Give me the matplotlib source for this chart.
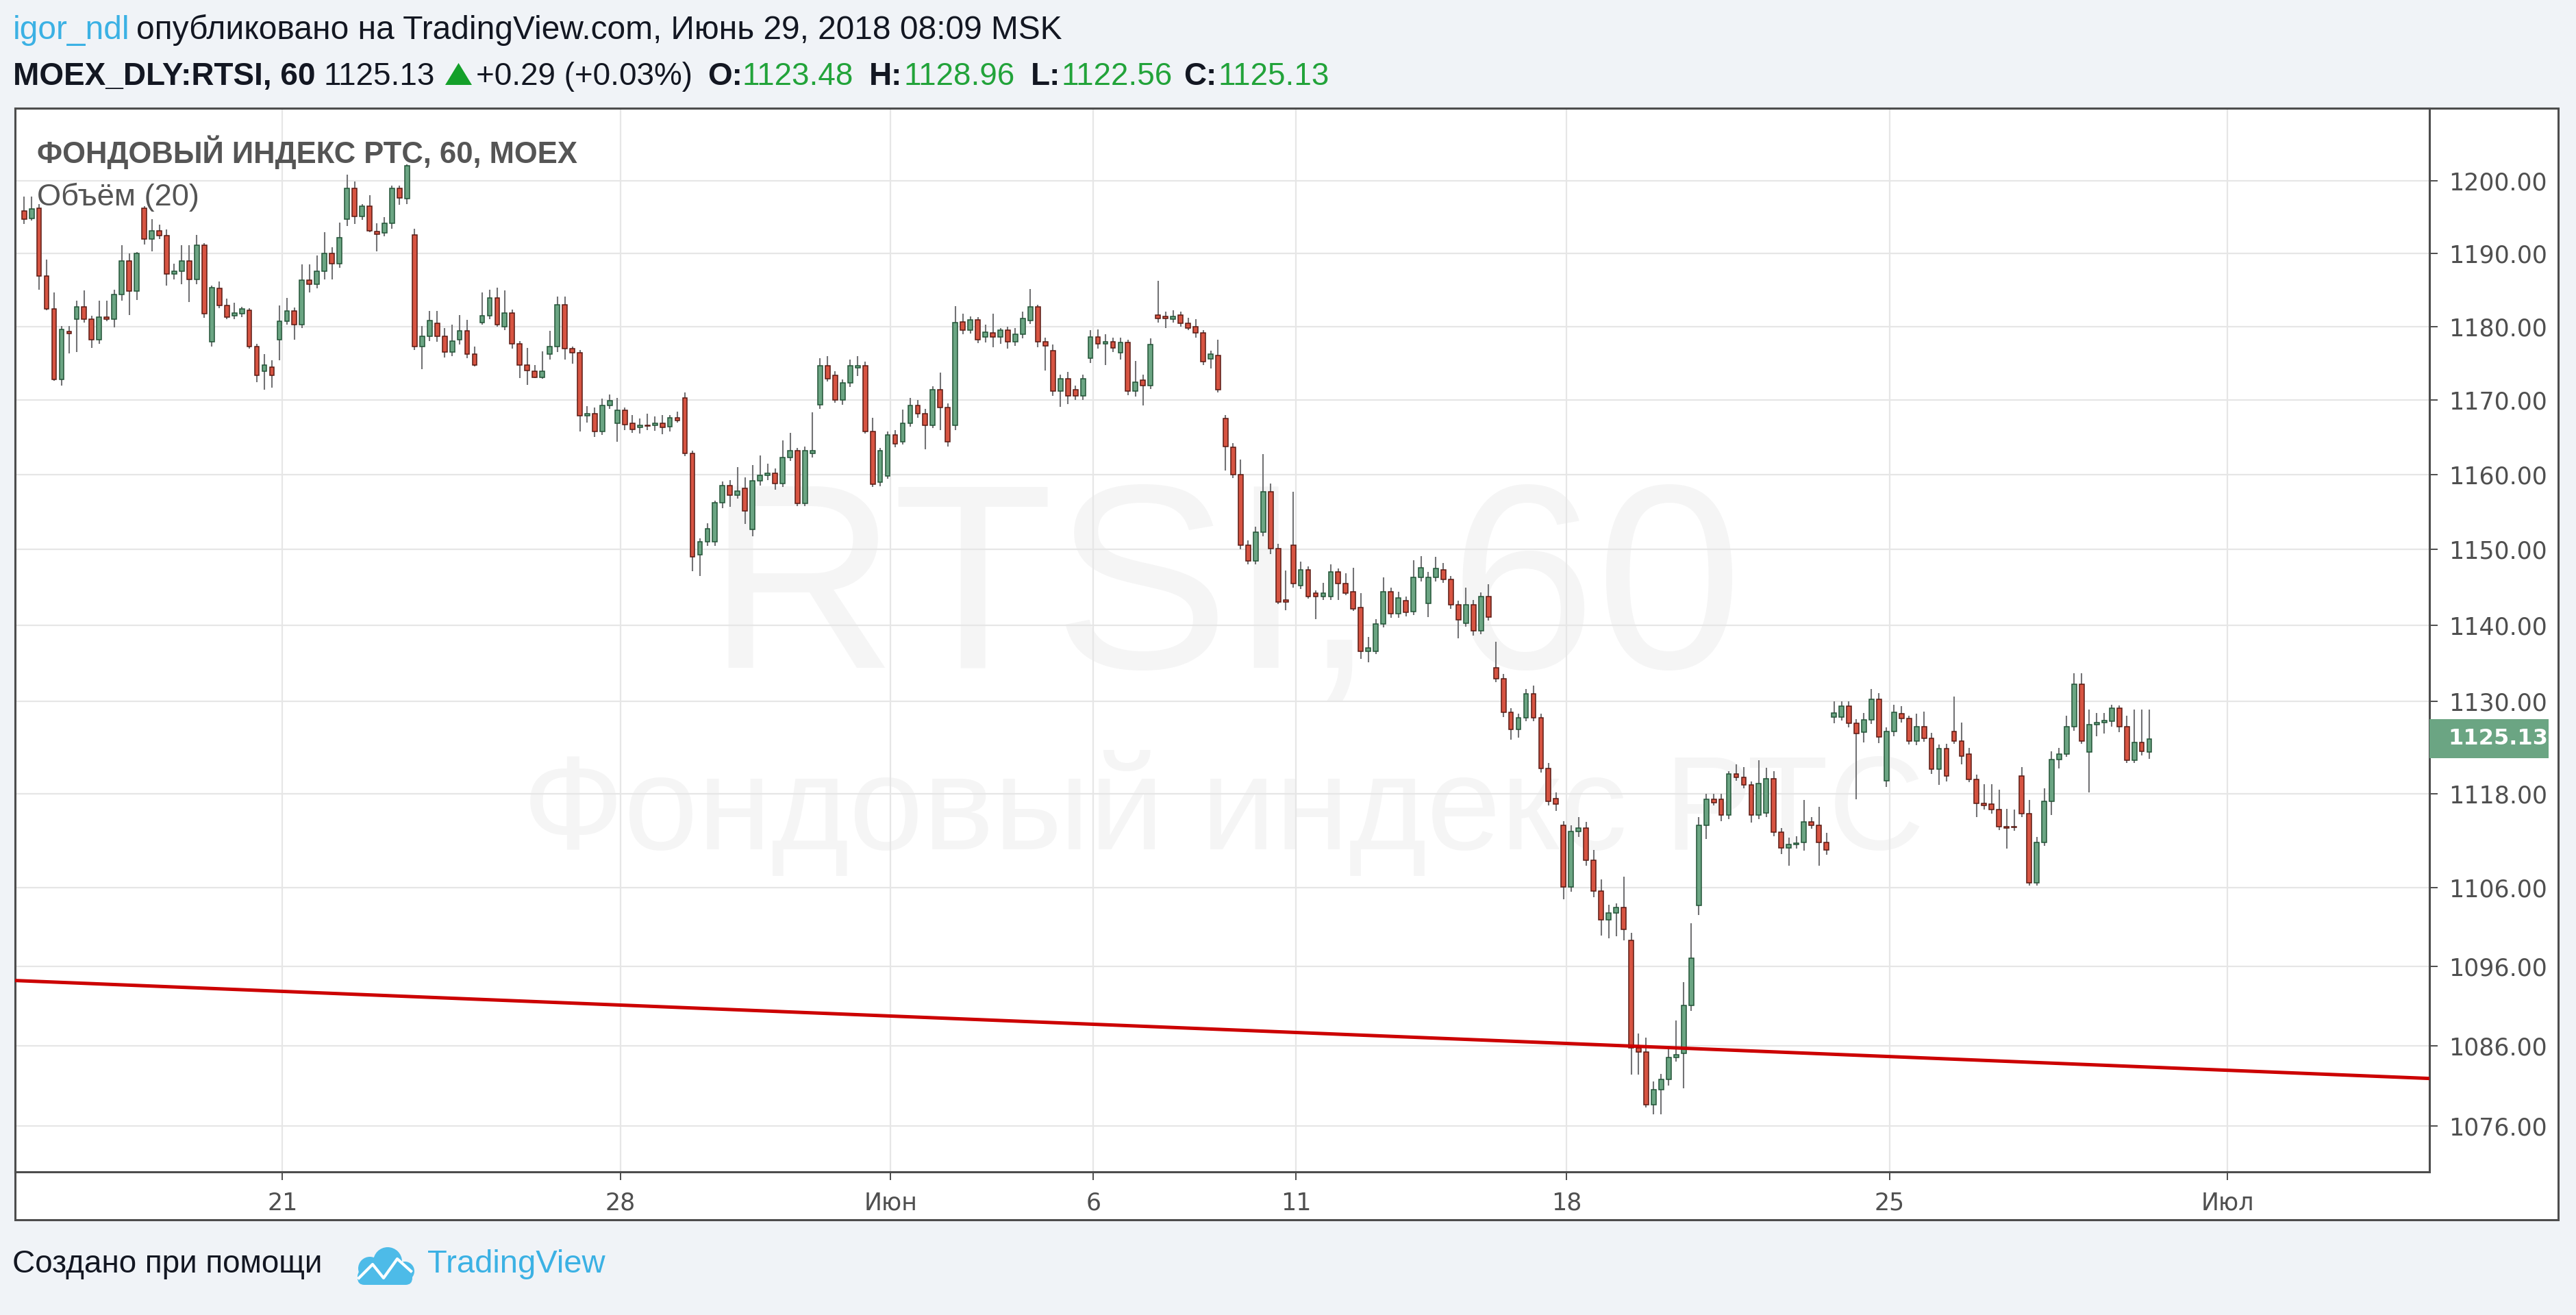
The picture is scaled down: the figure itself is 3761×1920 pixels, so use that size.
import matplotlib
matplotlib.use('Agg')
import matplotlib.pyplot as plt
from matplotlib.patches import Rectangle, Polygon, Circle, FancyBboxPatch
from matplotlib.lines import Line2D
from matplotlib.transforms import IdentityTransform
from matplotlib.ticker import FixedLocator, FixedFormatter, NullLocator

plt.rcParams['font.family'] = ['DejaVu Sans']

W, H, DPI = 3762, 1920, 100

# hourly candles, MOEX_DLY:RTSI, 60 (one row per session)
opens = [
    1195.8, 1194.8, 1196.2, 1186.9, 1182.4, 1172.8, 1179.3,
    1181.0, 1182.7, 1181.0, 1178.2, 1181.3, 1181.0, 1184.4, 1189.0, 1184.8,
    1196.2, 1192.0, 1193.1, 1192.4, 1187.2, 1187.5, 1189.0, 1186.4, 1191.1,
    1177.9, 1185.2, 1182.9, 1181.5, 1181.7, 1182.2, 1177.3, 1173.9, 1174.5,
    1178.2, 1180.7, 1182.1, 1180.2, 1186.3, 1185.8, 1187.5, 1190.0, 1188.6,
    1194.7, 1199.0, 1195.1, 1196.5, 1193.0, 1192.8, 1194.1, 1199.0, 1197.5,
    1192.5, 1177.3, 1178.7, 1180.4, 1178.7, 1176.5, 1178.2, 1179.4, 1176.2,
    1180.5, 1181.5, 1183.9, 1180.0, 1181.8, 1177.6, 1174.8, 1173.9, 1173.1,
    1176.2, 1177.3, 1183.0, 1177.0, 1176.4, 1167.9, 1168.2, 1165.8, 1169.3,
    1166.9, 1168.6, 1166.9, 1166.3, 1166.6, 1166.6, 1166.9, 1166.4, 1167.6,
    1170.3, 1162.8, 1149.3, 1151.0, 1151.0, 1156.2, 1158.5, 1157.2, 1158.2,
    1152.7, 1159.2, 1159.9, 1160.2, 1158.8, 1162.3, 1163.2, 1156.1, 1162.8,
    1169.4, 1174.7, 1173.4, 1170.0, 1172.3, 1174.4, 1174.7, 1165.8, 1159.0,
    1159.8, 1165.3, 1164.4, 1166.9, 1169.3, 1168.2, 1166.6, 1171.4, 1169.0,
    1166.6, 1180.6, 1179.5, 1180.9, 1178.6, 1179.1, 1178.6, 1179.5, 1177.9,
    1178.9, 1180.8, 1182.7, 1177.9, 1176.7, 1171.2, 1172.9, 1171.4, 1170.6,
    1175.7, 1178.6, 1177.6, 1177.9, 1176.4, 1177.8, 1171.2, 1172.7, 1172.0,
    1181.6, 1181.4, 1181.0, 1181.6, 1180.4, 1180.0, 1179.1, 1175.6, 1176.1,
    1167.5, 1163.7, 1160.0, 1150.6, 1148.5, 1152.3, 1157.7, 1150.1, 1143.3,
    1150.6, 1145.2, 1147.3, 1144.2, 1143.8, 1143.8, 1147.0, 1145.5, 1144.4,
    1142.3, 1136.6, 1136.6, 1140.2, 1144.4, 1141.5, 1143.2, 1141.8, 1146.3,
    1142.9, 1146.3, 1147.3, 1146.0, 1142.7, 1140.3, 1142.7, 1139.3, 1143.8,
    1134.4, 1133.0, 1128.6, 1126.4, 1127.9, 1131.0, 1127.9, 1121.3, 1117.4,
    1114.0, 1106.1, 1113.2, 1113.6, 1109.5, 1105.6, 1101.9, 1102.8, 1103.5,
    1099.3, 1085.7, 1085.2, 1078.6, 1080.5, 1081.8, 1084.5, 1085.0, 1091.1,
    1103.7, 1114.0, 1117.3, 1117.3, 1115.3, 1120.6, 1120.2, 1119.2, 1115.3,
    1115.6, 1120.0, 1113.1, 1111.1, 1111.5, 1111.8, 1114.4, 1114.0, 1111.8,
    1128.0, 1128.0, 1129.4, 1127.2, 1126.0, 1127.6, 1130.3,
    1119.7, 1126.1, 1128.4, 1127.8, 1124.9, 1126.7, 1125.2, 1121.2, 1123.9,
    1126.1, 1124.9, 1123.2, 1119.9, 1116.8, 1116.7, 1116.0, 1113.8, 1113.8,
    1120.3, 1115.5, 1106.6, 1111.8, 1117.1, 1122.5, 1123.2, 1126.7, 1132.3,
    1123.4, 1127.0, 1127.3, 1127.4, 1129.1, 1126.7, 1122.4, 1124.7, 1123.48,
]
highs = [
    1197.8, 1197.8, 1196.8, 1189.1, 1184.6, 1180.1, 1180.1,
    1183.5, 1184.9, 1181.5, 1183.5, 1183.5, 1185.0, 1191.1, 1190.0, 1190.2,
    1196.5, 1194.7, 1193.9, 1193.3, 1188.6, 1191.1, 1191.1, 1192.5, 1191.4,
    1185.6, 1186.1, 1183.8, 1183.2, 1182.7, 1182.5, 1177.6, 1176.2, 1175.4,
    1182.9, 1183.9, 1182.6, 1188.5, 1188.5, 1189.7, 1192.9, 1190.8, 1194.2,
    1200.9, 1199.9, 1196.8, 1198.0, 1194.1, 1195.0, 1199.3, 1199.3, 1202.3,
    1193.4, 1180.1, 1182.1, 1182.1, 1179.8, 1180.2, 1181.6, 1180.9, 1177.3,
    1184.6, 1185.0, 1185.3, 1184.9, 1182.3, 1178.0, 1177.1, 1174.8, 1176.6,
    1179.4, 1184.1, 1184.1, 1177.3, 1176.8, 1169.2, 1169.0, 1170.2, 1170.8,
    1170.3, 1169.0, 1168.0, 1167.5, 1168.2, 1167.8, 1168.0, 1168.0, 1168.5,
    1171.0, 1163.2, 1151.5, 1153.5, 1156.5, 1159.1, 1159.3, 1161.0, 1159.6,
    1161.3, 1162.6, 1161.5, 1160.8, 1164.6, 1165.6, 1163.6, 1163.8, 1168.4,
    1175.7, 1176.0, 1173.9, 1172.8, 1175.5, 1176.0, 1175.2, 1167.6, 1163.6,
    1165.8, 1166.0, 1168.7, 1170.3, 1170.0, 1168.8, 1171.9, 1173.7, 1169.6,
    1182.8, 1181.7, 1181.4, 1181.3, 1180.2, 1181.7, 1179.8, 1180.0, 1179.8,
    1182.0, 1185.1, 1183.0, 1178.5, 1177.5, 1173.5, 1173.8, 1172.0, 1173.5,
    1179.5, 1179.6, 1178.9, 1178.5, 1178.5, 1178.2, 1175.3, 1173.5, 1178.4,
    1186.2, 1182.0, 1182.2, 1182.0, 1181.2, 1181.0, 1179.5, 1176.7, 1178.2,
    1168.0, 1164.2, 1162.0, 1151.2, 1153.0, 1162.7, 1158.8, 1150.8, 1147.2,
    1157.7, 1148.4, 1147.8, 1144.6, 1145.6, 1148.0, 1147.5, 1146.9, 1147.6,
    1144.2, 1138.5, 1140.8, 1146.3, 1145.0, 1144.4, 1143.8, 1148.6, 1149.1,
    1147.0, 1149.0, 1148.2, 1146.5, 1143.2, 1145.0, 1143.3, 1144.3, 1145.4,
    1137.8, 1133.6, 1129.1, 1128.4, 1131.6, 1132.1, 1128.4, 1122.0, 1118.2,
    1114.5, 1114.0, 1115.0, 1114.4, 1110.8, 1107.0, 1103.8, 1104.0, 1107.4,
    1100.2, 1087.5, 1087.0, 1081.5, 1082.5, 1085.9, 1089.2, 1094.0, 1101.5,
    1115.0, 1118.0, 1118.0, 1118.0, 1121.0, 1121.8, 1121.5, 1119.6, 1122.4,
    1121.4, 1121.0, 1113.6, 1112.4, 1112.6, 1117.2, 1115.0, 1116.4, 1113.0,
    1130.0, 1130.0, 1130.0, 1127.7, 1128.5, 1131.6, 1131.1,
    1126.6, 1129.6, 1129.4, 1128.2, 1128.4, 1128.7, 1125.9, 1124.4, 1124.5,
    1130.7, 1127.3, 1124.0, 1120.5, 1119.3, 1119.3, 1118.6, 1116.1, 1116.0,
    1121.5, 1117.2, 1112.5, 1118.7, 1123.5, 1124.0, 1128.2, 1133.7, 1133.7,
    1129.0, 1128.5, 1128.5, 1129.6, 1129.5, 1128.2, 1129.0, 1129.0, 1128.96,
]
lows = [
    1194.0, 1194.5, 1185.0, 1182.2, 1172.6, 1172.0, 1176.3,
    1176.5, 1180.5, 1177.1, 1177.6, 1180.7, 1179.9, 1183.5, 1181.6, 1183.6,
    1191.2, 1190.3, 1192.0, 1185.6, 1186.4, 1185.8, 1183.3, 1185.8, 1181.2,
    1177.3, 1182.5, 1181.0, 1181.0, 1181.3, 1177.0, 1172.4, 1171.4, 1171.7,
    1175.4, 1180.2, 1178.2, 1179.8, 1184.6, 1185.2, 1186.4, 1186.4, 1188.0,
    1193.8, 1194.0, 1194.6, 1192.9, 1190.3, 1192.3, 1193.4, 1196.7, 1196.8,
    1176.8, 1174.2, 1178.0, 1177.9, 1175.8, 1176.0, 1177.5, 1175.7, 1174.6,
    1180.2, 1181.0, 1180.0, 1179.5, 1177.0, 1173.0, 1172.1, 1173.0, 1172.9,
    1175.5, 1176.5, 1175.5, 1174.9, 1165.8, 1167.0, 1165.0, 1165.3, 1168.8,
    1164.4, 1166.0, 1165.6, 1165.5, 1166.0, 1165.9, 1165.4, 1165.8, 1167.0,
    1162.5, 1147.1, 1146.5, 1150.5, 1150.5, 1155.5, 1155.7, 1156.8, 1153.4,
    1151.8, 1158.5, 1159.3, 1158.0, 1158.3, 1161.8, 1155.8, 1155.8, 1162.3,
    1168.8, 1172.5, 1169.7, 1169.4, 1171.8, 1173.3, 1165.5, 1158.3, 1158.4,
    1159.4, 1163.7, 1164.0, 1166.4, 1167.6, 1163.4, 1166.2, 1166.0, 1163.8,
    1166.0, 1178.9, 1179.0, 1177.7, 1177.8, 1177.2, 1177.6, 1177.0, 1177.4,
    1178.4, 1180.3, 1177.2, 1174.0, 1170.6, 1169.1, 1169.5, 1170.0, 1170.0,
    1175.0, 1177.0, 1174.8, 1176.5, 1175.5, 1170.7, 1170.5, 1169.3, 1171.5,
    1180.5, 1179.8, 1180.5, 1180.0, 1179.5, 1178.5, 1174.8, 1174.3, 1171.0,
    1160.5, 1159.5, 1150.0, 1148.0, 1148.0, 1151.8, 1149.4, 1142.8, 1142.0,
    1145.0, 1144.8, 1143.5, 1140.8, 1143.3, 1143.3, 1143.3, 1144.0, 1141.9,
    1135.6, 1135.1, 1136.2, 1139.7, 1141.0, 1141.0, 1141.2, 1141.3, 1145.8,
    1141.1, 1145.8, 1145.6, 1142.2, 1138.3, 1139.8, 1138.6, 1138.8, 1140.6,
    1132.5, 1128.0, 1125.0, 1125.3, 1127.4, 1127.4, 1120.8, 1116.5, 1115.8,
    1104.5, 1105.5, 1112.5, 1108.8, 1104.8, 1099.9, 1099.5, 1099.8, 1099.3,
    1082.4, 1082.4, 1078.3, 1077.4, 1077.4, 1081.0, 1084.0, 1080.7, 1090.4,
    1102.5, 1112.2, 1116.5, 1114.5, 1114.8, 1119.7, 1118.7, 1114.3, 1114.8,
    1115.0, 1112.6, 1110.3, 1108.8, 1111.0, 1110.7, 1113.5, 1108.8, 1110.2,
    1127.2, 1127.5, 1126.6, 1117.3, 1124.7, 1127.1, 1124.6,
    1118.9, 1125.5, 1127.3, 1124.4, 1124.3, 1124.8, 1120.6, 1119.2, 1119.6,
    1124.5, 1121.8, 1119.5, 1115.0, 1116.0, 1115.5, 1113.4, 1111.0, 1113.3,
    1115.0, 1106.3, 1106.3, 1111.3, 1115.3, 1121.3, 1122.8, 1126.2, 1124.5,
    1118.2, 1125.5, 1125.8, 1126.7, 1126.0, 1122.0, 1122.0, 1123.0, 1122.56,
]
closes = [
    1194.7, 1196.1, 1186.9, 1182.4, 1172.8, 1179.6, 1179.0,
    1182.7, 1181.0, 1178.2, 1181.3, 1181.0, 1184.4, 1189.0, 1184.8, 1190.0,
    1192.0, 1193.1, 1192.4, 1187.2, 1187.5, 1189.0, 1186.4, 1191.1, 1181.7,
    1185.3, 1182.9, 1181.3, 1181.8, 1182.4, 1177.3, 1173.4, 1174.8, 1173.4,
    1180.7, 1182.1, 1180.2, 1186.3, 1185.8, 1187.5, 1190.0, 1188.6, 1192.2,
    1199.0, 1195.1, 1196.5, 1193.1, 1192.6, 1194.1, 1199.0, 1197.6, 1202.1,
    1177.3, 1178.7, 1180.8, 1178.7, 1176.5, 1178.0, 1179.4, 1176.2, 1174.8,
    1181.5, 1183.9, 1180.2, 1181.8, 1177.6, 1174.8, 1174.0, 1173.1, 1173.9,
    1177.3, 1183.0, 1177.0, 1176.4, 1167.9, 1168.2, 1165.8, 1169.3, 1169.9,
    1168.6, 1166.7, 1166.1, 1166.6, 1166.5, 1166.9, 1166.3, 1167.6, 1167.3,
    1162.8, 1149.0, 1151.0, 1152.8, 1156.2, 1158.5, 1157.2, 1157.8, 1155.1,
    1159.2, 1159.9, 1160.2, 1158.8, 1162.3, 1163.2, 1156.1, 1163.2, 1163.2,
    1174.7, 1172.9, 1170.0, 1172.3, 1174.7, 1174.7, 1165.8, 1158.7, 1163.2,
    1165.3, 1164.1, 1166.9, 1169.3, 1168.2, 1166.6, 1171.4, 1169.0, 1164.4,
    1180.5, 1179.5, 1180.9, 1178.2, 1179.2, 1178.6, 1179.5, 1177.9, 1178.9,
    1181.1, 1182.7, 1177.9, 1177.4, 1171.2, 1172.9, 1170.6, 1170.6, 1172.9,
    1178.6, 1177.6, 1177.9, 1177.1, 1177.8, 1171.2, 1172.4, 1172.0, 1177.5,
    1181.1, 1181.1, 1181.4, 1180.4, 1179.8, 1179.1, 1175.2, 1176.2, 1171.4,
    1163.8, 1160.0, 1150.6, 1148.5, 1152.3, 1157.7, 1150.1, 1143.1, 1143.1,
    1145.5, 1147.3, 1143.8, 1143.8, 1144.2, 1147.0, 1145.5, 1144.2, 1142.2,
    1136.6, 1137.0, 1140.2, 1144.4, 1141.5, 1143.6, 1141.7, 1146.3, 1147.6,
    1146.3, 1147.5, 1146.0, 1142.7, 1140.7, 1142.7, 1139.3, 1143.8, 1141.1,
    1133.0, 1128.6, 1126.4, 1127.9, 1131.0, 1127.9, 1121.3, 1117.1, 1116.7,
    1106.1, 1113.2, 1113.6, 1109.5, 1105.6, 1101.9, 1102.8, 1103.5, 1100.7,
    1085.7, 1085.2, 1078.6, 1080.5, 1081.8, 1084.5, 1084.9, 1091.1, 1097.0,
    1114.0, 1117.3, 1116.9, 1115.3, 1120.6, 1120.2, 1119.2, 1115.3, 1119.4,
    1120.0, 1113.1, 1111.1, 1111.5, 1111.7, 1114.4, 1114.0, 1111.8, 1110.8,
    1128.5, 1129.4, 1127.2, 1125.8, 1127.6, 1130.3, 1125.4,
    1126.1, 1128.6, 1127.8, 1124.9, 1126.7, 1125.2, 1121.2, 1123.9, 1120.3,
    1124.9, 1122.9, 1119.9, 1116.8, 1116.5, 1116.0, 1113.8, 1113.6, 1113.7,
    1115.5, 1106.6, 1111.8, 1117.1, 1122.5, 1123.2, 1126.7, 1132.3, 1124.9,
    1127.0, 1127.3, 1127.5, 1129.1, 1126.7, 1122.4, 1124.7, 1123.5, 1125.13,
]

date_ticks = [34, 79, 115, 142, 169, 205, 248, 293]   # bar index of each labelled session
date_labels = ['21', '28', 'Июн', '6', '11', '18', '25', 'Июл']
price_ticks = [1076, 1086, 1096, 1106, 1118, 1130, 1140, 1150, 1160, 1170, 1180, 1190, 1200]
trend_x = [-1.2, 320.3]
trend_y = [1094.2, 1081.9]
last_price = 1125.13
header_ohlc = ['1123.48', '1128.96', '1122.56', '1125.13']

UP, DOWN = '#6ba583', '#d75442'
UP_EDGE, DOWN_EDGE = '#225437', '#5b1a13'
WICK = '#737375'
BORDER = '#4d4d4d'
AXIS_TXT = '#4f4f4f'
HDR_FONT = ['Liberation Sans', 'DejaVu Sans']

fig = plt.figure(figsize=(W / DPI, H / DPI), dpi=DPI, facecolor='#f0f3f7')
renderer = fig.canvas.get_renderer()


def fx(x):
    return x / W


def fy(y):
    return 1 - y / H


def fit(target, x, y, s, width, size, **kw):
    # place text at pixel (x, y) and scale it to the width it has in the reference
    t = target.text(fx(x), fy(y), s, transform=fig.transFigure, fontsize=size, **kw)
    w = t.get_window_extent(renderer).width
    t.set_fontsize(size * width / w)
    return t


# white chart panel incl. price and time scales
fig.add_artist(Rectangle((fx(22), fy(1781)), fx(3735) - fx(22), fy(158) - fy(1781),
                         transform=fig.transFigure, fc='white', ec=BORDER, lw=2.2, zorder=-1))

ax = fig.add_axes([fx(22), fy(1711), fx(3547) - fx(22), fy(158) - fy(1711)])
ax.set_facecolor('white')

idx = list(range(len(closes)))
rising = [c >= o for o, c in zip(opens, closes)]
ax.vlines(idx, lows, highs, color=WICK, lw=1.5, zorder=2)
ax.bar(idx, [abs(c - o) for o, c in zip(opens, closes)],
       bottom=[min(o, c) for o, c in zip(opens, closes)], width=0.62,
       color=[UP if r else DOWN for r in rising],
       edgecolor=[UP_EDGE if r else DOWN_EDGE for r in rising], linewidth=1.1, zorder=3)
ax.plot(trend_x, trend_y, color='#cc0000', lw=3.6, zorder=4, solid_capstyle='butt')

ax.set_yscale('log')
ax.set_ylim(1070.3, 1210.1)
ax.set_xlim(-1.2, 320.3)
ax.yaxis.set_major_locator(FixedLocator(price_ticks))
ax.yaxis.set_major_formatter(FixedFormatter([f'{p:.2f}' for p in price_ticks]))
ax.yaxis.set_minor_locator(NullLocator())
ax.yaxis.tick_right()
ax.set_xticks([t + 0.4 for t in date_ticks], date_labels)
ax.tick_params(axis='both', which='major', length=8.6, width=1.4, color=BORDER,
               pad=12, labelsize=25, labelcolor=AXIS_TXT)
ax.tick_params(axis='y', which='minor', length=0)
ax.grid(True, color='#e6e6e6', lw=1.6)
ax.set_axisbelow(True)
for sp in ax.spines.values():
    sp.set_color(BORDER)
    sp.set_linewidth(2.2)

# faint watermark
fit(ax, 1788, 975, 'RTSI, 60', 1512, 200, ha='center', va='baseline',
    color='#f5f5f5', family=HDR_FONT, zorder=0)
fit(ax, 1786, 1240, 'Фондовый индекс РТС', 2045, 120, ha='center', va='baseline',
    color='#f5f5f5', family=HDR_FONT, zorder=0)

# pane legend
fit(ax, 54, 238, 'ФОНДОВЫЙ ИНДЕКС РТС, 60, MOEX', 788, 30, ha='left', va='baseline',
    color='#555555', fontweight='bold', family=HDR_FONT, zorder=6)
fit(ax, 54, 300, 'Объём (20)', 237, 30, ha='left', va='baseline',
    color='#555555', family=HDR_FONT, zorder=6)

# last price label on the price scale
ypix = ax.transData.transform((0, last_price))[1]
fig.add_artist(Rectangle((3547, ypix - 28.5), 174, 57, transform=IdentityTransform(),
                         fc=UP, ec='none', zorder=5))
fig.text(fx(3574), ypix / H, f'{last_price:.2f}', va='center', ha='left', color='white',
         fontsize=23, fontweight='bold', zorder=6)

# header
HS = 33
user = fig.text(fx(19), fy(57), 'igor_ndl', fontsize=34.5, color='#3bb1e4',
                family=HDR_FONT, va='baseline')
user_end = user.get_window_extent(renderer).x1
fig.text(fx(user_end + 9), fy(57), 'опубликовано на TradingView.com, Июнь 29, 2018 08:09 MSK',
         fontsize=34.5, color='#131722', family=HDR_FONT, va='baseline')

pieces = [
    (19, 'MOEX_DLY:RTSI, 60', 'bold', '#131722'),
    (472, '1125.13', 'normal', '#131722'),
    (695, '+0.29 (+0.03%)', 'normal', '#131722'),
    (1033, 'O:', 'bold', '#131722'),
    (1084, header_ohlc[0], 'normal', '#22a33a'),
    (1269, 'H:', 'bold', '#131722'),
    (1320, header_ohlc[1], 'normal', '#22a33a'),
    (1505, 'L:', 'bold', '#131722'),
    (1550, header_ohlc[2], 'normal', '#22a33a'),
    (1728, 'C:', 'bold', '#131722'),
    (1779, header_ohlc[3], 'normal', '#22a33a'),
]
for x, s, wt, col in pieces:
    fig.text(fx(x), fy(124), s, fontsize=HS, fontweight=wt, color=col,
             family=HDR_FONT, va='baseline')
fig.add_artist(Polygon([(650, H - 124), (689, H - 124), (669.5, H - 92)],
                       transform=IdentityTransform(), fc='#14a02a', ec='none'))

# footer
fig.text(fx(18), fy(1858), 'Создано при помощи', fontsize=HS, color='#131722',
         family=HDR_FONT, va='baseline')
fig.text(fx(624), fy(1858), 'TradingView', fontsize=34, color='#3bb1e4',
         family=HDR_FONT, va='baseline')
LOGO = '#4dbbe8'
for cx, cy, r in [(540, 1852, 17), (566, 1842, 21), (591, 1856, 14)]:
    fig.add_artist(Circle((cx, H - cy), r, transform=IdentityTransform(), fc=LOGO, ec='none'))
fig.add_artist(FancyBboxPatch((522, H - 1876), 80, 22, boxstyle='round,pad=0,rounding_size=10',
                              transform=IdentityTransform(), fc=LOGO, ec='none'))
fig.add_artist(Line2D([524, 544, 560, 580, 600], [H - 1866, H - 1846, H - 1866, H - 1838, H - 1856],
                      transform=IdentityTransform(), color='white', lw=3))

fig.savefig('out.png', dpi=DPI, facecolor=fig.get_facecolor())
